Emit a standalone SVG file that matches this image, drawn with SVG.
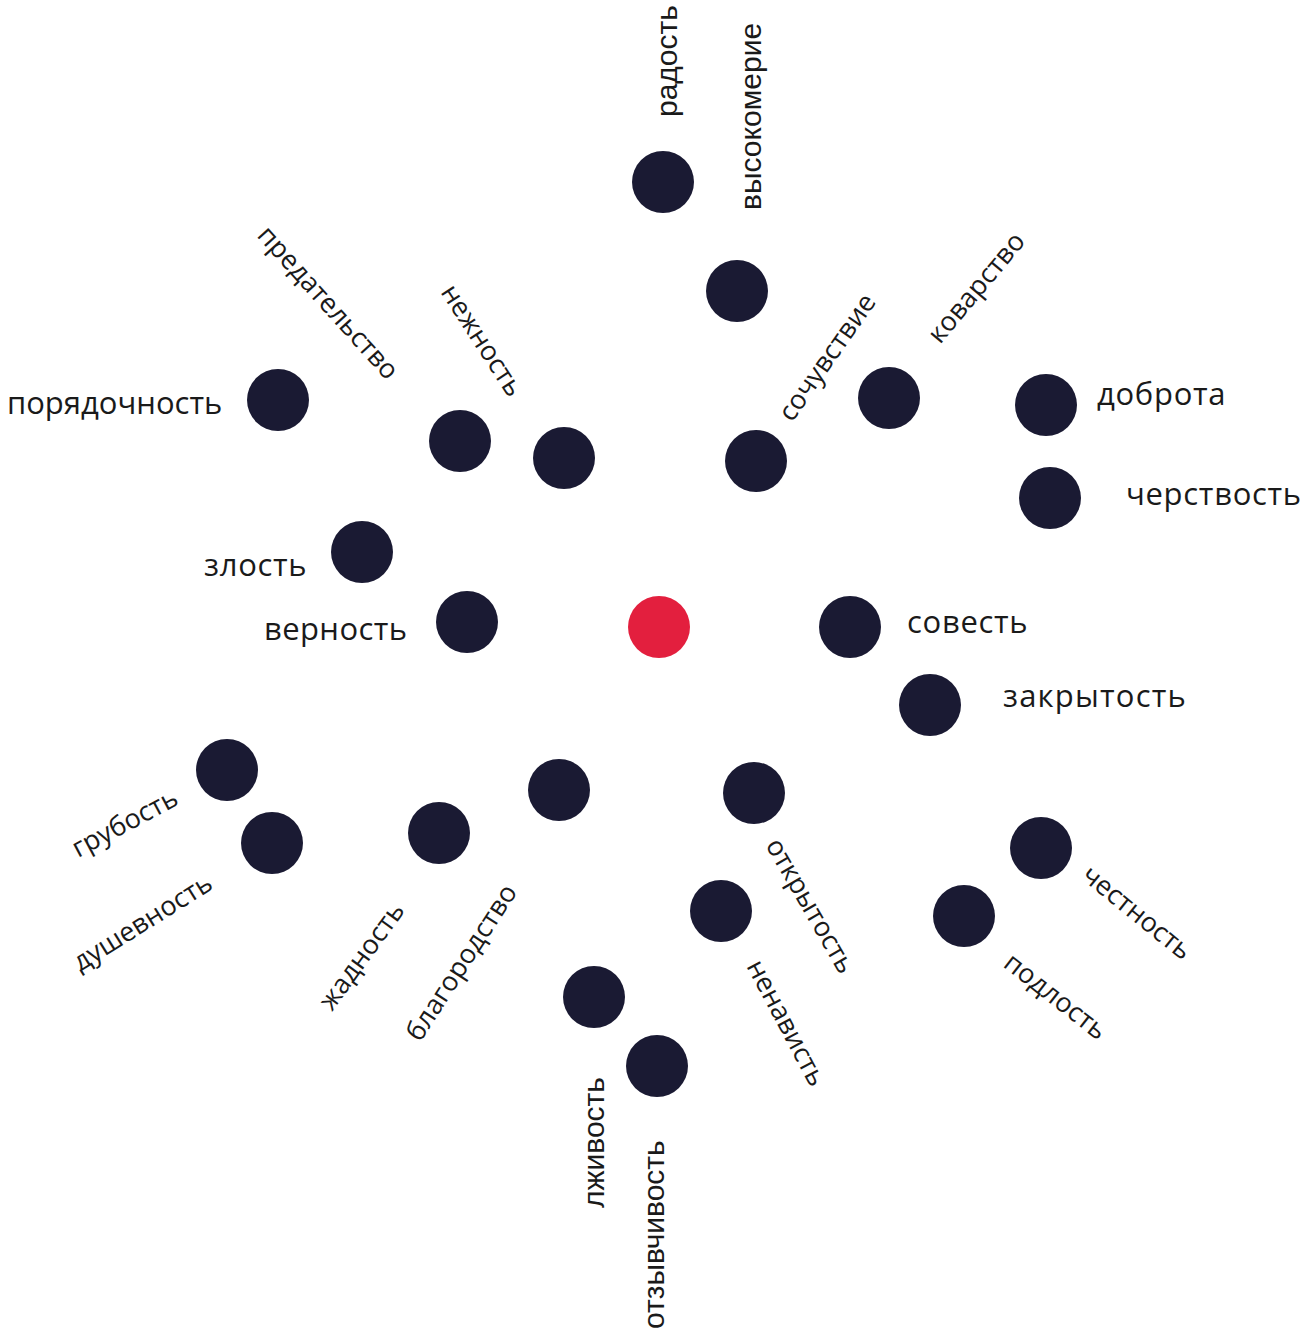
<svg xmlns="http://www.w3.org/2000/svg" width="1301" height="1330" viewBox="0 0 1301 1330">
<style>
.n{fill:#1a1a33}
.c{fill:#e31f3e}
.h{font-family:"Open Sans","Liberation Sans",sans-serif;font-size:31px;letter-spacing:0.7px;fill:#1a1a1a}
.r{font-family:"Open Sans","Liberation Sans",sans-serif;font-size:27px;fill:#1a1a1a}
.v{font-family:"Liberation Sans",Arial,sans-serif;font-size:30px;fill:#1a1a1a}
</style>
<rect width="1301" height="1330" fill="#ffffff"/>
<g id="connectors"></g>
<g id="center"><circle class="c" cx="659" cy="627" r="31"/></g>
<g id="n-radost"><circle class="n" cx="663" cy="182" r="31"/><text class="v" transform="translate(677,117) rotate(-90)">радость</text></g>
<g id="n-vysokomerie"><circle class="n" cx="737" cy="291" r="31"/><text class="v" transform="translate(761,210) rotate(-90)">высокомерие</text></g>
<g id="n-sochuvstvie"><circle class="n" cx="756" cy="461" r="31"/><text class="r" transform="translate(792,423) rotate(-55)">сочувствие</text></g>
<g id="n-kovarstvo"><circle class="n" cx="889" cy="398" r="31"/><text class="r" transform="translate(940,345) rotate(-50)">коварство</text></g>
<g id="n-dobrota"><circle class="n" cx="1046" cy="405" r="31"/><text class="h" x="1097" y="405">доброта</text></g>
<g id="n-cherstvost"><circle class="n" cx="1050" cy="498" r="31"/><text class="h" x="1126" y="505">черствость</text></g>
<g id="n-poryadochnost"><circle class="n" cx="278" cy="400" r="31"/><text class="h" x="7" y="414" style="letter-spacing:0">порядочность</text></g>
<g id="n-predatelstvo"><circle class="n" cx="460" cy="441" r="31"/><text class="r" transform="translate(256,236) rotate(48)">предательство</text></g>
<g id="n-nezhnost"><circle class="n" cx="564" cy="458" r="31"/><text class="r" transform="translate(440,292) rotate(57)">нежность</text></g>
<g id="n-zlost"><circle class="n" cx="362" cy="552" r="31"/><text class="h" x="204" y="576">злость</text></g>
<g id="n-vernost"><circle class="n" cx="467" cy="622" r="31"/><text class="h" x="264" y="640" style="letter-spacing:0.4px">верность</text></g>
<g id="n-sovest"><circle class="n" cx="850" cy="627" r="31"/><text class="h" x="907" y="633">совесть</text></g>
<g id="n-zakrytost"><circle class="n" cx="930" cy="705" r="31"/><text class="h" x="1003" y="707" style="letter-spacing:1.2px">закрытость</text></g>
<g id="n-grubost"><circle class="n" cx="227" cy="770" r="31"/><text class="r" transform="translate(78,858) rotate(-28)">грубость</text></g>
<g id="n-dushevnost"><circle class="n" cx="272" cy="843" r="31"/><text class="r" transform="translate(80,972) rotate(-32)">душевность</text></g>
<g id="n-zhadnost"><circle class="n" cx="439" cy="833" r="31"/><text class="r" transform="translate(332,1012) rotate(-54)">жадность</text></g>
<g id="n-blagorodstvo"><circle class="n" cx="559" cy="790" r="31"/><text class="r" transform="translate(420,1043) rotate(-57)">благородство</text></g>
<g id="n-otkrytost"><circle class="n" cx="754" cy="793" r="31"/><text class="r" transform="translate(765,845) rotate(60)">открытость</text></g>
<g id="n-nenavist"><circle class="n" cx="721" cy="911" r="31"/><text class="r" transform="translate(746,966) rotate(62)">ненависть</text></g>
<g id="n-chestnost"><circle class="n" cx="1041" cy="848" r="31"/><text class="r" transform="translate(1080,878) rotate(39)">честность</text></g>
<g id="n-podlost"><circle class="n" cx="964" cy="916" r="31"/><text class="r" transform="translate(1002,966) rotate(38)">подлость</text></g>
<g id="n-lzhivost"><circle class="n" cx="594" cy="997" r="31"/><text class="v" transform="translate(604,1208) rotate(-90)">лживость</text></g>
<g id="n-otzyvchivost"><circle class="n" cx="657" cy="1066" r="31"/><text class="v" transform="translate(664,1329) rotate(-90)">отзывчивость</text></g>
</svg>
